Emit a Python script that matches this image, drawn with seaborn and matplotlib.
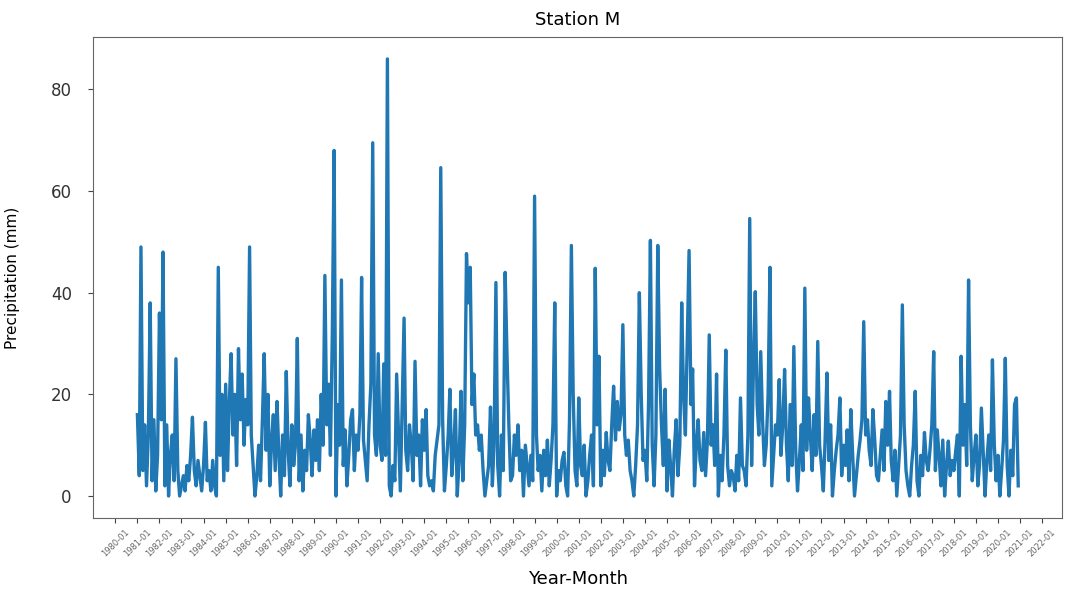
import numpy as np
import pandas as pd
import matplotlib
matplotlib.use("Agg")
import matplotlib.pyplot as plt
import matplotlib.dates as mdates
import seaborn as sns

# Monthly precipitation (mm), Station M, 1981-01 .. 2020-12
precip_1981_1990 = [
    16, 4, 49, 5, 14, 2, 12, 38, 3, 15, 1, 8,
    36, 15, 48, 2, 14, 0, 8, 12, 3, 27, 5, 0,
    2, 4, 1, 6, 3, 8, 15.5, 5, 2, 7, 4, 1,
    6, 14.5, 3, 5, 1, 7, 2, 0, 45, 8, 20, 3,
    22, 5, 18, 28, 12, 20, 6, 29, 15, 24, 10, 19,
    14, 49, 12, 6, 0, 4, 10, 3, 15, 28, 9, 20,
    2, 11, 16, 5, 18.6, 8, 0, 12, 4, 24.5, 9, 2,
    14, 6, 10, 31, 3, 12, 1, 9, 5, 16, 11, 4,
    13, 7, 15, 5, 20, 10, 43.4, 14, 22, 8, 32, 68,
    0, 18, 10, 42.5, 6, 13, 2, 8, 15, 17, 5, 12,
]
precip_1991_2000 = [
    9, 16, 43, 11, 7, 3, 14, 22, 69.5, 12, 8, 28,
    10, 7, 26, 8, 86, 2, 0, 6, 3, 24, 12, 1,
    18, 35, 9, 5, 14, 10, 3, 26.5, 8, 12, 2, 15,
    9, 17, 4, 2, 3, 1, 8, 11, 14, 64.6, 15, 1,
    6, 12, 21, 4, 9, 17, 0, 7, 20.6, 3, 14, 47.7,
    38, 45, 18, 24, 12, 14, 9, 12, 5, 0, 3, 6,
    17.5, 2, 10, 42, 6, 0, 12, 5, 44, 28, 14, 3,
    4, 12, 8, 14, 5, 9, 0, 10, 6, 2, 8, 3,
    59, 12, 5, 8, 1, 9, 4, 11, 2, 7, 14, 38,
    0, 5, 3, 7, 8.6, 2, 0, 15, 49.3, 20, 5, 2,
]
precip_2001_2010 = [
    19.3, 6, 4, 10, 0, 3, 8, 12, 2, 44.8, 14, 27.5,
    2, 9, 4, 12.5, 7, 5, 14, 21.6, 11, 18.6, 13, 16,
    33.7, 12, 8, 11, 5, 3, 0, 6, 14, 40, 20, 7,
    9, 3, 18, 50.3, 10, 2, 12, 49.3, 25, 14, 6, 21,
    1, 11, 6, 0, 9, 15, 4, 10, 38, 20, 12, 30,
    48.3, 18, 25, 2, 10, 15, 7, 5, 12.5, 4, 11, 31.7,
    10, 14, 6, 24, 0, 8, 3, 12, 28.7, 6, 2, 5,
    4, 1, 8, 3, 19.3, 6, 5, 2, 12, 54.6, 6, 25,
    40.2, 18, 12, 28.4, 15, 6, 10, 20, 45, 2, 8, 14,
    12, 22.9, 8, 14, 24.9, 10, 3, 18, 6, 29.4, 9, 1,
]
precip_2011_2020 = [
    7, 14, 5, 40.9, 9, 19.3, 12, 5, 16, 8, 30.4, 10,
    6, 1, 11, 24.2, 7, 14, 0, 5, 9, 12, 19.3, 4,
    10, 6, 13, 3, 17, 8, 0, 4, 8, 11, 15, 34.3,
    12, 15, 9, 6, 17, 11, 4, 3, 8, 13, 5, 18.6,
    10, 20.6, 7, 3, 9, 0, 6, 12, 37.6, 14, 5, 2,
    0, 6, 10, 20.6, 3, 0, 8, 4, 12.5, 7, 5, 9,
    14, 28.4, 5, 13, 8, 2, 11, 0, 6, 10.8, 4, 7,
    5, 9, 12, 0, 27.5, 10, 18, 6, 42.5, 14, 3, 8,
    12, 2, 6, 17.3, 9, 0, 7, 12, 5, 26.8, 10, 3,
    8, 0, 5, 11, 27.1, 6, 0, 9, 4, 18, 19.3, 2,
]

start_month = "1981-01"
title = "Station M"
x_label = "Year-Month"
y_label = "Precipitation (mm)"
y_ticks = [0, 20, 40, 60, 80]

values = precip_1981_1990 + precip_1991_2000 + precip_2001_2010 + precip_2011_2020
dates = pd.date_range(start=start_month, periods=len(values), freq="MS")
df = pd.DataFrame({"Year-Month": dates, "Precipitation": values})

fig = plt.figure(figsize=(10.73, 5.98), dpi=100)
ax = fig.add_axes([0.087, 0.134, 0.903, 0.804])

sns.lineplot(data=df, x="Year-Month", y="Precipitation", ax=ax,
             color="#1f77b4", linewidth=2.4)

ax.xaxis.set_major_locator(mdates.YearLocator())
ax.xaxis.set_major_formatter(mdates.DateFormatter("%Y-%m"))
plt.setp(ax.get_xticklabels(), rotation=45, fontsize=6, color="#666666")
ax.set_yticks(y_ticks)
ax.tick_params(axis="y", labelsize=12, colors="#333333", pad=12)
ax.tick_params(axis="both", color="#444444")
for s in ax.spines.values():
    s.set_color("#666666")

ax.set_title(title, fontsize=13, pad=9)
ax.set_xlabel(x_label, fontsize=13, labelpad=8)
ax.set_ylabel(y_label, fontsize=11, labelpad=22)

fig.savefig("out.png", dpi=100)
